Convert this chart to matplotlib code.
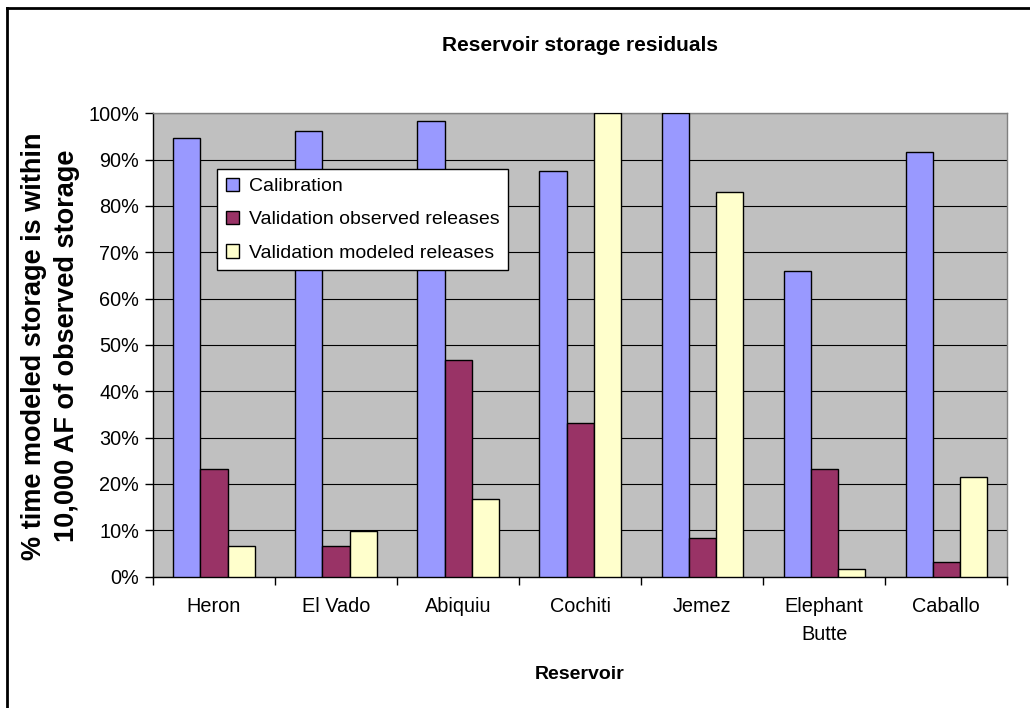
import numpy as np
import matplotlib
matplotlib.use("Agg")
import matplotlib.pyplot as plt
from matplotlib.lines import Line2D
from matplotlib.ticker import MultipleLocator, PercentFormatter

plt.rcParams['font.family'] = ['Liberation Sans', 'DejaVu Sans']

reservoirs = ["Heron", "El Vado", "Abiquiu", "Cochiti", "Jemez", "Elephant\nButte", "Caballo"]
calibration = [94.7, 96.2, 98.3, 87.5, 100.0, 66.0, 91.6]
valid_observed = [23.2, 6.7, 46.8, 33.1, 8.3, 23.2, 3.1]
valid_modeled = [6.7, 9.9, 16.8, 100.0, 83.1, 1.6, 21.6]

series = [
    ("Calibration", calibration, "#9999FF"),
    ("Validation observed releases", valid_observed, "#993366"),
    ("Validation modeled releases", valid_modeled, "#FFFFCC"),
]

fig = plt.figure(figsize=(10.3, 7.08), dpi=100)
ax = fig.add_axes([0.1485, 0.1855, 0.8295, 0.6545])
ax.set_facecolor("#C0C0C0")

x = np.arange(len(reservoirs))
width = 1 / 4.5
for i, (name, vals, color) in enumerate(series):
    ax.bar(x + (i - 1) * width, vals, width, color=color, edgecolor="black",
           linewidth=1.0, label=name, zorder=3)

ax.set_xlim(-0.5, len(reservoirs) - 0.5)
ax.set_ylim(0, 100)
ax.yaxis.set_major_locator(MultipleLocator(10))
ax.yaxis.set_major_formatter(PercentFormatter(decimals=0))
ax.grid(axis="y", color="black", linewidth=0.8, zorder=1)

ax.set_xticks(x)
ax.set_xticklabels(reservoirs, fontsize=14.3, linespacing=1.6)
ax.set_xticks(np.arange(-0.5, len(reservoirs), 1), minor=True)
ax.tick_params(axis="x", which="major", length=0, pad=15)
ax.tick_params(axis="x", which="minor", length=6, width=1, direction="out")
ax.tick_params(axis="y", labelsize=14.3, length=6, width=1, direction="out", pad=4)

for side in ["top", "right"]:
    ax.spines[side].set_color("#808080")
    ax.spines[side].set_linewidth(1.0)
for side in ["left", "bottom"]:
    ax.spines[side].set_color("black")
    ax.spines[side].set_linewidth(1.0)

fig.text(0.5632, 0.936, "Reservoir storage residuals", ha="center", va="center",
         fontsize=15, fontweight="bold")
fig.text(0.5632, 0.047, "Reservoir", ha="center", va="center",
         fontsize=14, fontweight="bold")
fig.text(0.0495, 0.511, "% time modeled storage is within\n10,000 AF of observed storage",
         ha="center", va="center", rotation=90, fontsize=19.5, fontweight="bold",
         multialignment="center", linespacing=1.35)

leg = ax.legend(loc="upper left", bbox_to_anchor=(0.075, 0.88), fontsize=14,
                frameon=True, fancybox=False, edgecolor="black", framealpha=1,
                handlelength=0.7, handleheight=0.7, handletextpad=0.5,
                labelspacing=0.8, borderpad=0.45, borderaxespad=0)
leg.get_frame().set_linewidth(1.0)
leg.set_zorder(5)

fig.add_artist(Line2D([0.0068, 1.0], [0.9894, 0.9894], color="black", linewidth=2.0))
fig.add_artist(Line2D([0.0068, 0.0068], [0.0, 0.9894], color="black", linewidth=2.0))

fig.savefig("out.png", dpi=100)
